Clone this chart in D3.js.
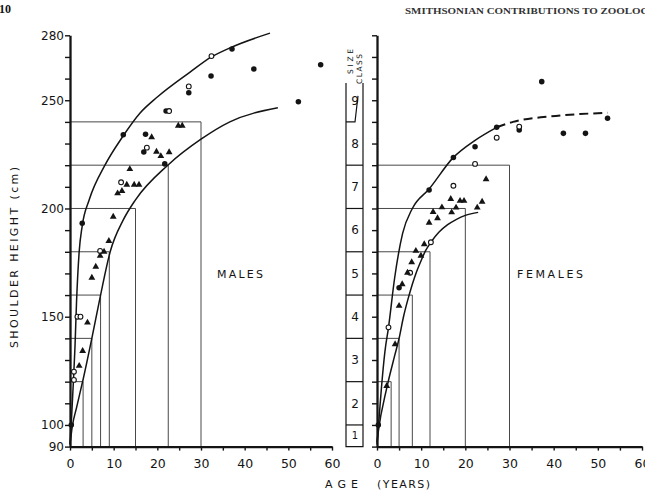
<!DOCTYPE html>
<html><head><meta charset="utf-8">
<script src="https://cdn.jsdelivr.net/npm/d3@7"></script>
<style>body{margin:0;background:#fff}svg{display:block}</style>
</head><body>
<svg id="c" width="645" height="495"></svg>
<script>
// ---------- data ----------
const yTicks = [90,100,110,120,130,140,150,160,170,180,190,200,210,220,230,240,250,260,270,280];
const yTickLabels = [90,100,150,200,250,280];
const xTicks = [0,5,10,15,20,25,30,35,40,45,50,55,60];
const xTickLabels = [0,10,20,30,40,50,60];

const sizeClassBounds = [90,100,120,140,160,180,200,220,240];
const sizeClassLabels = ["1","2","3","4","5","6","7","8","9"];

// [height, age] where each size-class boundary is reached
const maleClassAges = [[120,3],[140,5],[160,7],[180,9],[200,15],[220,22.5],[240,30]];
const femaleClassAges = [[120,3.2],[140,5],[160,8],[180,12],[200,20],[220,30]];

// [age, shoulder height]
const maleFilled = [[0.3,100],[2.8,193.2],[12.2,234.1],[16.9,226.1],[17.3,234.3],[21.7,220.6],[22.0,245.0],[27.2,253.5],[32.3,261.2],[37.1,273.7],[42.1,264.4],[52.3,249.3],[57.4,266.4]];
const maleOpen = [[0.9,120.8],[0.9,124.6],[1.7,150],[2.4,150],[6.9,180.4],[11.7,212.1],[17.6,228.1],[22.7,245.0],[27.2,256.4],[32.4,270.4]];
const maleTriangles = [[2.1,127.3],[2.9,134.2],[4.0,147.3],[5.0,168.0],[5.9,173.1],[6.9,178.1],[7.8,180.0],[8.9,185.0],[9.9,196.2],[10.9,207.0],[11.9,208.1],[13.0,211.0],[13.7,218.2],[14.7,211.0],[15.8,211.0],[18.7,232.9],[19.8,226.2],[20.8,224.2],[22.7,226.0],[24.8,238.2],[25.7,238.2]];

const femaleFilled = [[0.3,100],[5.0,163.4],[11.8,208.5],[17.3,223.6],[22.2,228.5],[27.1,237.5],[32.2,236.3],[37.3,258.6],[42.2,234.7],[47.2,234.7],[52.2,241.7]];
const femaleOpen = [[2.6,145.1],[7.5,170.3],[12.2,184.4],[17.3,210.5],[22.2,220.6],[27.1,232.7],[32.2,237.8]];
const femaleTriangles = [[2.2,118],[4.1,137.3],[5.0,155],[5.7,165],[6.9,170.3],[7.85,175.2],[8.8,180.4],[9.95,178.2],[10.7,183.5],[11.8,193.4],[12.7,198.4],[13.7,195.5],[14.7,200.5],[16.7,204.4],[16.9,198.2],[17.9,200.4],[18.8,203.5],[19.7,203.5],[22.7,200.4],[23.8,203.1],[24.7,213.5]];

// growth curves [age, height]
const maleUpperCurve = [[0,91],[0.4,105],[0.8,121],[1.14,136],[1.5,157],[2.1,180],[2.8,192],[4.4,204],[8,220],[12,233],[16,244],[20,251.5],[27.5,263],[32.4,270],[37,274.5],[45.8,281]];
const maleLowerCurve = [[0,91],[0.5,99],[1.5,108],[3,121],[5,140],[7,160],[9.2,180],[12.2,194.7],[15,204],[22.4,220],[30,232],[36.6,240],[47.6,246.5]];
const femaleUpperCurve = [[0,91],[0.5,104],[1,117],[1.8,134],[2.6,145],[4,168],[5.8,188.5],[8,200],[11.8,209],[17.3,223.6],[22.2,231.5],[27.1,237.5]];
const femaleUpperDashed = [[27.1,237.5],[30.8,240],[38.4,242.4],[45.9,243.6],[52.2,244.2]];
const femaleLowerCurve = [[0,92],[0.3,97],[2.2,117],[4,132],[5,140],[6,150],[7,158],[8,165],[9,171],[10,176],[11,180.5],[12.2,184.4],[14,189],[16,192.5],[18,195],[20,196.8],[22.9,198.2]];

// ---------- drawing ----------
const svg = d3.select("#c");
const ink = "#141414";
const y = d3.scaleLinear().domain([90,280]).range([446.6,35.3]);
const xL = d3.scaleLinear().domain([0,60]).range([70,332]);
const xR = d3.scaleLinear().domain([0,60]).range([377,642]);
const FONT = "DejaVu Sans, Verdana, sans-serif";

// header
svg.append("text").attr("x",-1).attr("y",13).attr("font-family","Liberation Serif, serif")
  .attr("font-weight","bold").attr("font-size",12).attr("fill",ink).text("10");
svg.append("text").attr("x",405).attr("y",14).attr("font-family","Liberation Serif, serif")
  .attr("font-weight","bold").attr("font-size",8.6).attr("fill","#333")
  .attr("textLength",252).attr("lengthAdjust","spacingAndGlyphs")
  .text("SMITHSONIAN CONTRIBUTIONS TO ZOOLOGY");

function classRects(x, pairs){
  svg.append("g").selectAll("path").data(pairs).join("path")
    .attr("d", d => `M${x(0)},${y(d[0])}H${x(d[1])}V${y(90)}`)
    .attr("fill","none").attr("stroke","#333").attr("stroke-width",0.9);
}
classRects(xL, maleClassAges);
classRects(xR, femaleClassAges);

function yAxis(x, labels){
  const ax = d3.axisLeft(y).tickValues(yTicks).tickSize(5).tickSizeOuter(0).tickPadding(1)
    .tickFormat(d => labels && yTickLabels.includes(d) ? d : "");
  const g = svg.append("g").attr("transform",`translate(${x},0)`).call(ax);
  g.select(".domain").attr("stroke",ink).attr("stroke-width",2.3);
  g.selectAll(".tick line").attr("stroke",ink).attr("stroke-width",1.4);
  g.selectAll(".tick text").attr("font-family",FONT).attr("font-size",12).attr("fill",ink);
}
function xAxis(x){
  const ax = d3.axisBottom(x).tickValues(xTicks).tickSize(4).tickSizeOuter(0).tickPadding(9)
    .tickFormat(d => xTickLabels.includes(d) ? d : "");
  const g = svg.append("g").attr("transform",`translate(0,${y(90)})`).call(ax);
  g.select(".domain").attr("stroke",ink).attr("stroke-width",2.3);
  g.selectAll(".tick line").attr("stroke",ink).attr("stroke-width",1.4);
  g.selectAll(".tick text").attr("font-family",FONT).attr("font-size",12.5).attr("fill",ink);
}
yAxis(xL(0), true);
yAxis(xR(0), false);
xAxis(xL);
xAxis(xR);

// size class column
const colL = 346, colR = 363, colTop = y(258);
const col = svg.append("g").attr("stroke",ink).attr("fill","none").attr("stroke-width",1.2);
col.append("path").attr("d",`M${colL},${colTop}V${y(90)}H${colR}V${colTop}`);
col.selectAll("line").data(sizeClassBounds.slice(1,8)).join("line")
  .attr("x1",colL).attr("x2",colR).attr("y1",d=>y(d)).attr("y2",d=>y(d));
col.append("path").attr("d",`M${colL},${y(240)}H${colL+9}L${colL+12},${y(252)}`);
svg.append("g").selectAll("text").data(sizeClassLabels).join("text")
  .attr("x",(colL+colR)/2+0.5)
  .attr("y",(d,i)=> i<8 ? (y(sizeClassBounds[i])+y(sizeClassBounds[i+1]))/2 : y(250))
  .attr("dy","0.36em").attr("text-anchor","middle").attr("font-family",FONT)
  .attr("font-size",d=> d==="1"?10:12).attr("fill",ink).text(d=>d);
svg.append("text").attr("transform","translate(353,74) rotate(-90)").attr("font-family",FONT)
  .attr("font-size",7.5).attr("fill",ink).attr("textLength",25).text("SIZE");
svg.append("text").attr("transform","translate(361.5,84) rotate(-90)").attr("font-family",FONT)
  .attr("font-size",7.5).attr("fill",ink).attr("textLength",30).text("CLASS");

// curves
function curve(x, pts, dashed){
  svg.append("path").datum(pts)
    .attr("d", d3.line().x(d=>x(d[0])).y(d=>y(d[1])).curve(d3.curveMonotoneX))
    .attr("fill","none").attr("stroke",ink).attr("stroke-width",dashed?2:1.5)
    .attr("stroke-dasharray",dashed?"9,5":null);
}
curve(xL, maleUpperCurve);
curve(xL, maleLowerCurve);
curve(xR, femaleUpperCurve);
curve(xR, femaleUpperDashed, true);
curve(xR, femaleLowerCurve);

// markers
function markers(x, pts, type){
  const sym = d3.symbol().type(type==="tri"?d3.symbolTriangle:d3.symbolCircle)
    .size(type==="tri"?20:type==="filled"?24:18);
  svg.append("g").selectAll("path").data(pts).join("path")
    .attr("transform", d=>`translate(${x(d[0])},${y(d[1])})`)
    .attr("d", sym)
    .attr("fill", type==="open" ? "#fff" : ink)
    .attr("stroke", type==="open" ? ink : "none")
    .attr("stroke-width", 1.1);
}
markers(xL, maleFilled, "filled");
markers(xL, maleOpen, "open");
markers(xL, maleTriangles, "tri");
markers(xR, femaleFilled, "filled");
markers(xR, femaleOpen, "open");
markers(xR, femaleTriangles, "tri");

// labels
const lab = (x,yy,t,len,extra) => {
  const e = svg.append("text").attr("x",x).attr("y",yy).attr("font-family",FONT)
    .attr("font-size",11).attr("fill",ink).text(t);
  if(len) e.attr("textLength",len).attr("lengthAdjust","spacing");
  return e;
};
lab(217,278,"MALES",46);
lab(517,278,"FEMALES",66);
lab(325,488,"A G E",33);
lab(377,488,"(YEARS)",53);
svg.append("text").attr("transform","translate(18,348) rotate(-90)").attr("font-family",FONT)
  .attr("font-size",11).attr("fill",ink).attr("textLength",181).attr("lengthAdjust","spacing")
  .text("SHOULDER  HEIGHT  (cm)");
</script>
</body></html>
